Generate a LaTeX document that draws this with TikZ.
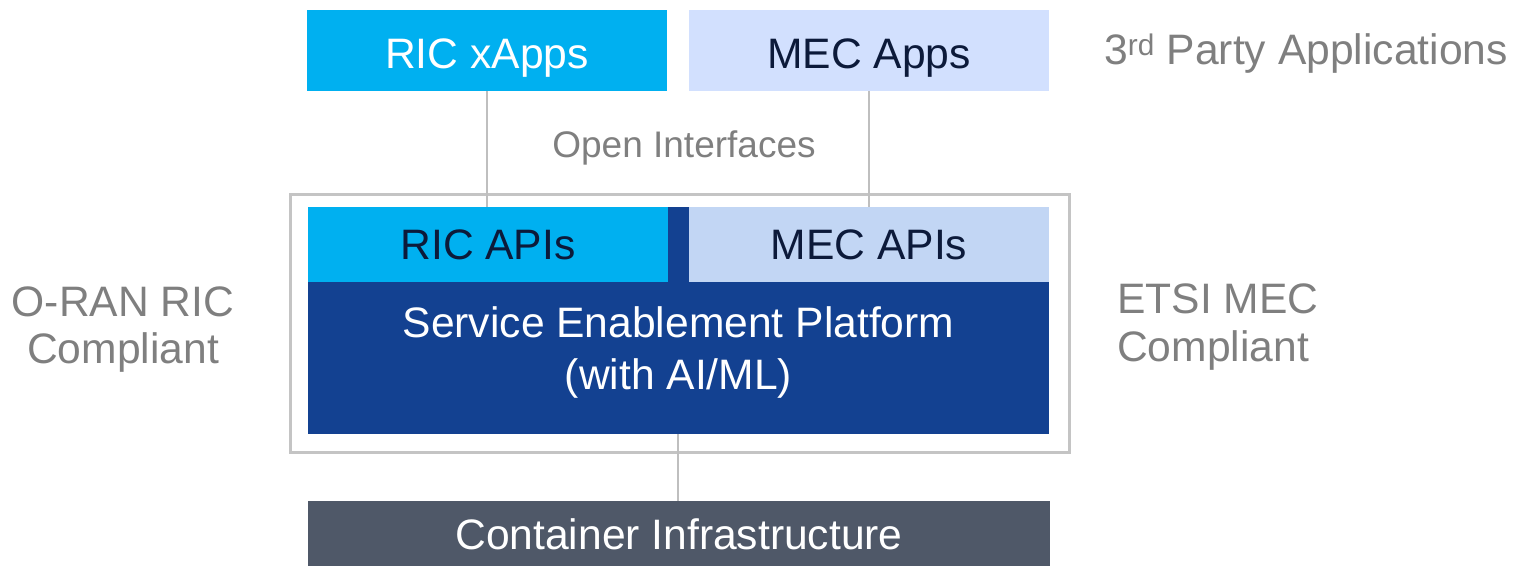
\documentclass[tikz,border=0pt]{standalone}
\usepackage{fontspec}
\setmainfont{Liberation Sans}
\definecolor{cyanbox}{HTML}{00B0F0}
\definecolor{lightapp}{HTML}{D2E0FE}
\definecolor{lightapi}{HTML}{C2D6F4}
\definecolor{darkblue}{HTML}{134191}
\definecolor{slate}{HTML}{4F5868}
\definecolor{darktext}{HTML}{0C1A3A}
\definecolor{graytext}{HTML}{7F7F7F}
\definecolor{graylinec}{HTML}{BFBFBF}
\definecolor{framec}{HTML}{C4C4C4}
\tikzset{
  bigfont/.style={font=\fontsize{42.6}{52}\selectfont},
  box/.style={rectangle, inner sep=0pt, outer sep=0pt, draw=none, align=center, bigfont},
  capc/.style={text height=30.5pt, text depth=0pt},
  glabel/.style={inner sep=0pt, text=graytext, bigfont},
  conn/.style={draw=graylinec, line width=2.5pt},
  framebox/.style={rectangle, draw=framec, line width=3pt, inner sep=0pt, fill=none},
}
\begin{document}
\begin{tikzpicture}[x=1pt,y=-1pt]
\useasboundingbox (0,0) rectangle (1514,565);
% frame
\node[framebox, minimum width=779pt, minimum height=258pt] (frame) at (679.5,323) {};
% top apps
\node[box, fill=cyanbox, text=white, text height=36.5pt, text depth=0pt, minimum width=360pt, minimum height=81pt] (ricx) at (487,50.5) {RIC xApps};
\node[box, fill=lightapp, text=darktext, text height=36.5pt, text depth=0pt, minimum width=360pt, minimum height=81pt] (mecapps) at (869,50.5) {MEC Apps};
% platform
\node[box, fill=darkblue, minimum width=741pt, minimum height=227pt] (platform) at (678.5,320.5) {};
\node[box, capc, fill=cyanbox, text=darktext, minimum width=360pt, minimum height=75pt] (ricapi) at (488,244.5) {RIC APIs};
\node[box, capc, fill=lightapi, text=darktext, minimum width=360pt, minimum height=75pt] (mecapi) at (869,244.5) {MEC APIs};
\node[box, text=white] (ptext) at (678.5,352.5) {Service Enablement Platform\\(with AI/ML)};
% container
\node[box, capc, fill=slate, text=white, minimum width=742pt, minimum height=66pt] (cont) at (679,534) {Container Infrastructure};
% connectors
\draw[conn] (ricx.south -| 487,0) -- (ricapi.north -| 487,0);
\draw[conn] (mecapps.south) -- (mecapi.north);
\draw[conn] (platform.south -| 678,0) -- (cont.north -| 678,0);
% labels
\node[glabel, font=\fontsize{37}{44}\selectfont, text height=26.5pt, text depth=0pt] (open) at (684,144.5) {Open Interfaces};
\node[glabel, capc] (third) at (1306,49.5) {3\textsuperscript{rd} Party Applications};
\node[glabel, align=center, font=\fontsize{42.6}{47.5}\selectfont] (oran) at (123,329.5) {O-RAN RIC\\Compliant};
\node[glabel, align=left, anchor=west, font=\fontsize{42.6}{48}\selectfont] (etsi) at (1117,327.5) {ETSI MEC\\Compliant};
\end{tikzpicture}
\end{document}
